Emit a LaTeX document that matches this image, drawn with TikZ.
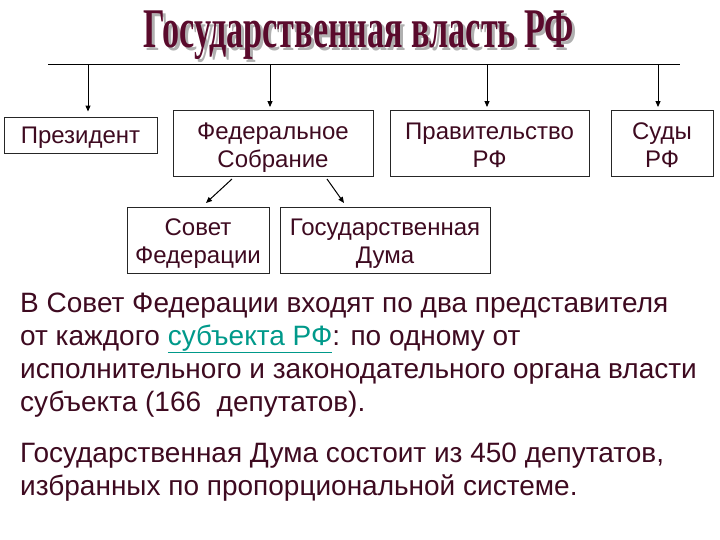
\documentclass[tikz,border=0pt]{standalone}
\usepackage{fontspec}
\setmainfont{Liberation Sans}
\newfontfamily\titlefont{Liberation Serif}
\usetikzlibrary{arrows.meta}
\definecolor{txt}{HTML}{3E0A20}
\definecolor{ttl}{HTML}{5A0A2C}
\definecolor{shd}{HTML}{B0B0B0}
\definecolor{lnk}{HTML}{00998A}
\newcommand{\titletext}{\scalebox{0.61}[1]{Государственная власть РФ}}
\tikzset{
  box/.style={draw=black!85, line width=0.9pt, text=txt, font=\fontsize{24}{28}\selectfont, align=center, inner sep=0pt},
  oneline/.style={box, text height=17.2pt, text depth=0pt},
  twoline/.style={box, text height=47.5pt, text depth=0pt},
  arr/.style={-{Triangle[length=6pt,width=5pt]}, line width=1pt, black},
  body/.style={text=txt, font=\fontsize{28}{33}\selectfont, align=left, anchor=base west, inner sep=0pt}
}
\begin{document}
\begin{tikzpicture}[x=1pt,y=-1pt]
\useasboundingbox (0,0) rectangle (720,540);
% title with shadow
\node[font=\titlefont\bfseries\fontsize{56}{60}\selectfont, inner sep=0pt] (title) at (359,37)
  {\makebox[0pt][l]{\hspace{3pt}\raisebox{-3pt}{\textcolor{shd}{\titletext}}}\textcolor{ttl}{\titletext}};
% top line
\coordinate (l0) at (48,65);
\coordinate (l1) at (680,65);
\draw[line width=1pt] (l0) -- (l1);
% boxes
\node[oneline, minimum width=153pt, minimum height=36pt] (pres) at (80.5,135) {Президент};
\node[twoline, minimum width=200pt, minimum height=66pt] (fed) at (273,143.5) {Федеральное\\Собрание};
\node[twoline, minimum width=199pt, minimum height=66pt] (gov) at (489.5,143.5) {Правительство\\РФ};
\node[twoline, minimum width=102pt, minimum height=66pt] (court) at (662,143.5) {Суды\\РФ};
\node[twoline, minimum width=142pt, minimum height=66pt] (sf) at (198,240) {Совет\\Федерации};
\node[twoline, minimum width=210pt, minimum height=66pt] (gd) at (385,240) {Государственная\\Дума};
% arrows from line
\coordinate (a1) at (88,65);
\coordinate (a2) at (270,65);
\coordinate (a3) at (487,65);
\coordinate (a4) at (658,65);
\draw[arr] (a1) -- ([yshift=5pt]pres.north -| a1);
\draw[arr] (a2) -- ([yshift=3pt]fed.north -| a2);
\draw[arr] (a3) -- ([yshift=3pt]gov.north -| a3);
\draw[arr] (a4) -- ([yshift=3pt]court.north -| a4);
% diagonal arrows
\coordinate (d1s) at (232,179);
\coordinate (d1e) at (206,203);
\coordinate (d2s) at (327,179);
\coordinate (d2e) at (344,203);
\draw[arr] (d1s) -- (d1e);
\draw[arr] (d2s) -- (d2e);
% text (anchor = baseline of last line)
\node[body] (p1) at (20,411) {В Совет Федерации входят по два представителя\\
от каждого \textcolor{lnk}{\underline{субъекта РФ}}: по одному от\\
исполнительного и законодательного органа власти\\
субъекта (166~ депутатов).};
\node[body] (p2) at (20,495) {Государственная Дума состоит из 450 депутатов,\\
избранных по пропорциональной системе.};
\end{tikzpicture}
\end{document}
